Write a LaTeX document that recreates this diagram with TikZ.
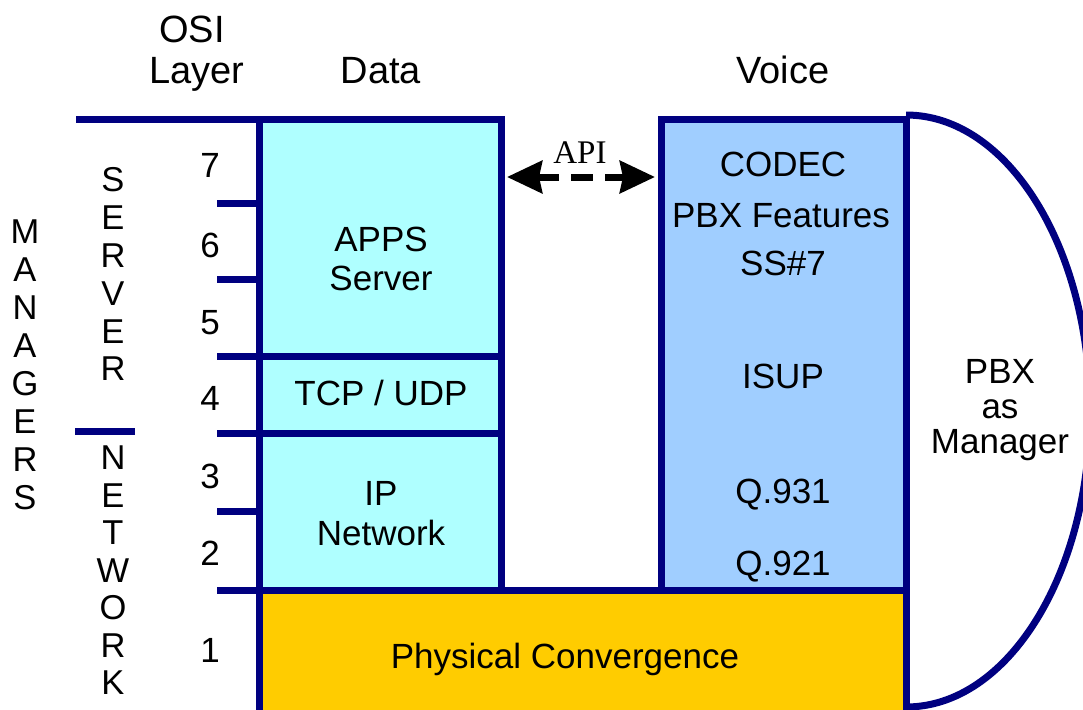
\documentclass[tikz,border=0pt]{standalone}
\usepackage{fontspec}
\setmainfont{Liberation Sans}
\newfontfamily\apifont{Liberation Serif}
\usetikzlibrary{arrows.meta}
\definecolor{navy}{RGB}{0,0,128}
\definecolor{datafill}{RGB}{175,255,255}
\definecolor{voicefill}{RGB}{160,206,255}
\definecolor{physfill}{RGB}{255,204,0}
\begin{document}
\begin{tikzpicture}[x=1pt,y=-1pt,
  box/.style={draw=navy,line width=7pt,inner sep=0pt,outer sep=0pt,anchor=north west},
  rule/.style={draw=navy,line width=7pt},
  txt/.style={font=\fontsize{35}{40}\selectfont,anchor=base,inner sep=0pt},
  head/.style={font=\fontsize{38}{44}\selectfont,anchor=base,inner sep=0pt},
  vl/.style={font=\fontsize{34.5}{38}\selectfont,inner sep=0pt},
  apiarrow/.style={line width=7pt,dash pattern=on 22pt off 12pt,
    {Stealth[length=35pt,width=32pt,inset=3pt]}-{Stealth[length=35pt,width=32pt,inset=3pt]}}]
\useasboundingbox (0,0) rectangle (1083,709);

% boxes
\node[box,fill=physfill,minimum width=647pt,minimum height=130pt] (phys) at (259,590) {};
\node[box,fill=datafill,minimum width=242pt,minimum height=237pt] (apps) at (259,119) {};
\node[box,fill=datafill,minimum width=242pt,minimum height=77pt] (tcp) at (259,356) {};
\node[box,fill=datafill,minimum width=242pt,minimum height=157pt] (ip) at (259,433) {};
\node[box,fill=voicefill,minimum width=245pt,minimum height=471pt] (voice) at (661,119) {};

% rules
\draw[rule] (76,119) -- (apps.north west);
\draw[rule] (217,203) -- (259,203);
\draw[rule] (217,279) -- (259,279);
\draw[rule] (217,356) -- (apps.south west);
\draw[rule] (217,433) -- (ip.north west);
\draw[rule] (217,511) -- (259,511);
\draw[rule] (217,590) -- (phys.north west);
\draw[rule] (75,431) -- (135,431);
\draw[rule] (906,115) arc[start angle=90,end angle=-90,x radius=184pt,y radius=296pt];

% API arrow
\coordinate (apiL) at ([xshift=6pt,yshift=-58pt]apps.north east);
\coordinate (apiR) at ([xshift=-6pt,yshift=-58pt]voice.north west);
\draw[apiarrow] (apiL) -- (apiR);
\node[anchor=base,inner sep=0pt,font=\apifont\fontsize{33}{36}\selectfont] (api) at (580,163) {API};

% headers
\node[head] (osi) at (192,43) {OSI};
\node[head] (layer) at (197,83) {Layer};
\node[head] (data) at (381,83) {Data};
\node[head] (voicet) at (783,83) {Voice};

% layer numbers
\node[txt] (n7) at (210,177) {7};
\node[txt] (n6) at (210,257) {6};
\node[txt] (n5) at (210,334) {5};
\node[txt] (n4) at (210,410) {4};
\node[txt] (n3) at (210,488) {3};
\node[txt] (n2) at (210,565) {2};
\node[txt] (n1) at (210,662) {1};

% vertical words
\foreach \c [count=\i] in {M,A,N,A,G,E,R,S}
  \node[vl] (m\i) at (25,{232+(\i-1)*37.9}) {\c};
\foreach \c [count=\i] in {S,E,R,V,E,R}
  \node[vl] (s\i) at (113,{180+(\i-1)*37.8}) {\c};
\foreach \c [count=\i] in {N,E,T,W,O,R,K}
  \node[vl] (w\i) at (113,{458+(\i-1)*37.5}) {\c};

% box texts
\node[txt] (t1) at (381,251) {APPS};
\node[txt] (t2) at (381,290) {Server};
\node[txt] (t3) at (381,405) {TCP / UDP};
\node[txt] (t4) at (381,505) {IP};
\node[txt] (t5) at (381,545) {Network};
\node[txt] (v1) at (783,176) {CODEC};
\node[txt] (v2) at (781,227) {PBX Features};
\node[txt] (v3) at (783,275) {SS\#7};
\node[txt] (v4) at (783,388) {ISUP};
\node[txt] (v5) at (783,503) {Q.931};
\node[txt] (v6) at (783,575) {Q.921};
\node[txt] (p1) at (1000,383) {PBX};
\node[txt] (p2) at (1000,418) {as};
\node[txt] (p3) at (1000,453) {Manager};
\node[txt] (ph) at (565,668) {Physical Convergence};
\end{tikzpicture}
\end{document}
